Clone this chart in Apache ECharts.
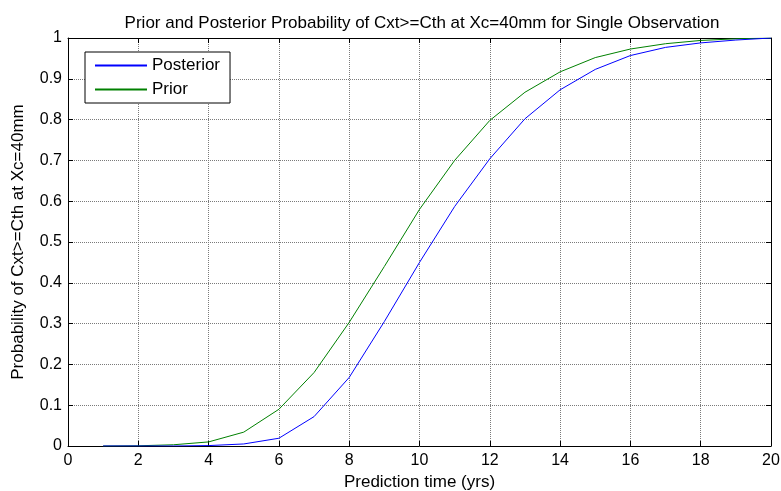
<!DOCTYPE html>
<html><head><meta charset="utf-8">
<script src="https://cdn.jsdelivr.net/npm/echarts@6/dist/echarts.min.js"></script>
<style>html,body{margin:0;padding:0;background:#fff;overflow:hidden}#c{width:781px;height:491px}</style>
</head><body><div id="c"></div>
<script>
const years = [1,2,3,4,5,6,7,8,9,10,11,12,13,14,15,16,17,18,19,20];
const posterior = [0,0,0,0.001,0.005,0.019,0.072,0.168,0.305,0.450,0.587,0.704,0.802,0.873,0.923,0.957,0.977,0.988,0.995,1.0];
const prior = [0,0.0005,0.003,0.010,0.034,0.090,0.180,0.303,0.440,0.580,0.700,0.798,0.867,0.917,0.952,0.973,0.986,0.994,0.998,1.0];
const xTicks = [0,2,4,6,8,10,12,14,16,18,20];
const yTicks = [0,0.1,0.2,0.3,0.4,0.5,0.6,0.7,0.8,0.9,1];

const font = 'Liberation Sans, Arial, sans-serif';
const chart = echarts.init(document.getElementById('c'), null, {renderer:'canvas'});
const pair = arr => arr.map((v,i)=>[years[i], v]);
const gridLine = {show:true, lineStyle:{color:'#7a7a7a', type:[1,1], width:1}};
const axisBase = {
  axisLine:{show:true, onZero:false, lineStyle:{color:'#000', width:1}},
  axisTick:{show:true, inside:true, length:5, lineStyle:{color:'#000'}},
};
chart.setOption({
  animation:false,
  title:{text:'Prior and Posterior Probability of Cxt>=Cth at Xc=40mm for Single Observation',
    left:417, top:10, textAlign:'center',
    textStyle:{fontSize:17, fontWeight:'normal', color:'#000', fontFamily:font}},
  grid:{left:68, right:10, top:38, bottom:45, containLabel:false, outerBoundsMode:'none'},
  legend:{show:true, left:85, top:52, orient:'vertical', icon:'rect', itemWidth:52, itemHeight:2, itemGap:7,
    borderColor:'#000', borderWidth:1, padding:[5,10,5,10], backgroundColor:'#fff',
    textStyle:{fontSize:17, color:'#000', fontFamily:font},
    data:['Posterior','Prior']},
  xAxis:[
    Object.assign({type:'value', min:0, max:20, interval:2, position:'bottom',
      name:'Prediction time (yrs)', nameLocation:'middle', nameGap:26,
      nameTextStyle:{fontSize:17, color:'#000', fontFamily:font},
      splitLine:gridLine}, axisBase,
      {axisLabel:{color:'#000', fontSize:16, fontFamily:font, margin:7,
        formatter: v => xTicks.includes(v) ? String(v) : ''}}),
    Object.assign({type:'value', min:0, max:20, interval:2, position:'top', splitLine:{show:false}}, axisBase,
      {axisLabel:{show:false}})
  ],
  yAxis:[
    Object.assign({type:'value', min:0, max:1, interval:0.1, position:'left',
      name:'Probability of Cxt>=Cth at Xc=40mm', nameLocation:'middle', nameGap:41,
      nameTextStyle:{fontSize:17, color:'#000', fontFamily:font},
      splitLine:gridLine}, axisBase,
      {axisLabel:{color:'#000', fontSize:16, fontFamily:font, margin:6,
        formatter: v => yTicks.includes(Math.round(v*10)/10) ? String(Math.round(v*10)/10) : ''}}),
    Object.assign({type:'value', min:0, max:1, interval:0.1, position:'right', splitLine:{show:false}}, axisBase,
      {axisLabel:{show:false}})
  ],
  series:[
    {name:'Posterior', type:'line', data:pair(posterior), showSymbol:false, symbol:'none',
      lineStyle:{color:'#0000ff', width:1}, itemStyle:{color:'#0000ff'}, z:3},
    {name:'Prior', type:'line', data:pair(prior), showSymbol:false, symbol:'none',
      lineStyle:{color:'#008000', width:1}, itemStyle:{color:'#008000'}, z:2}
  ]
});
</script></body></html>
